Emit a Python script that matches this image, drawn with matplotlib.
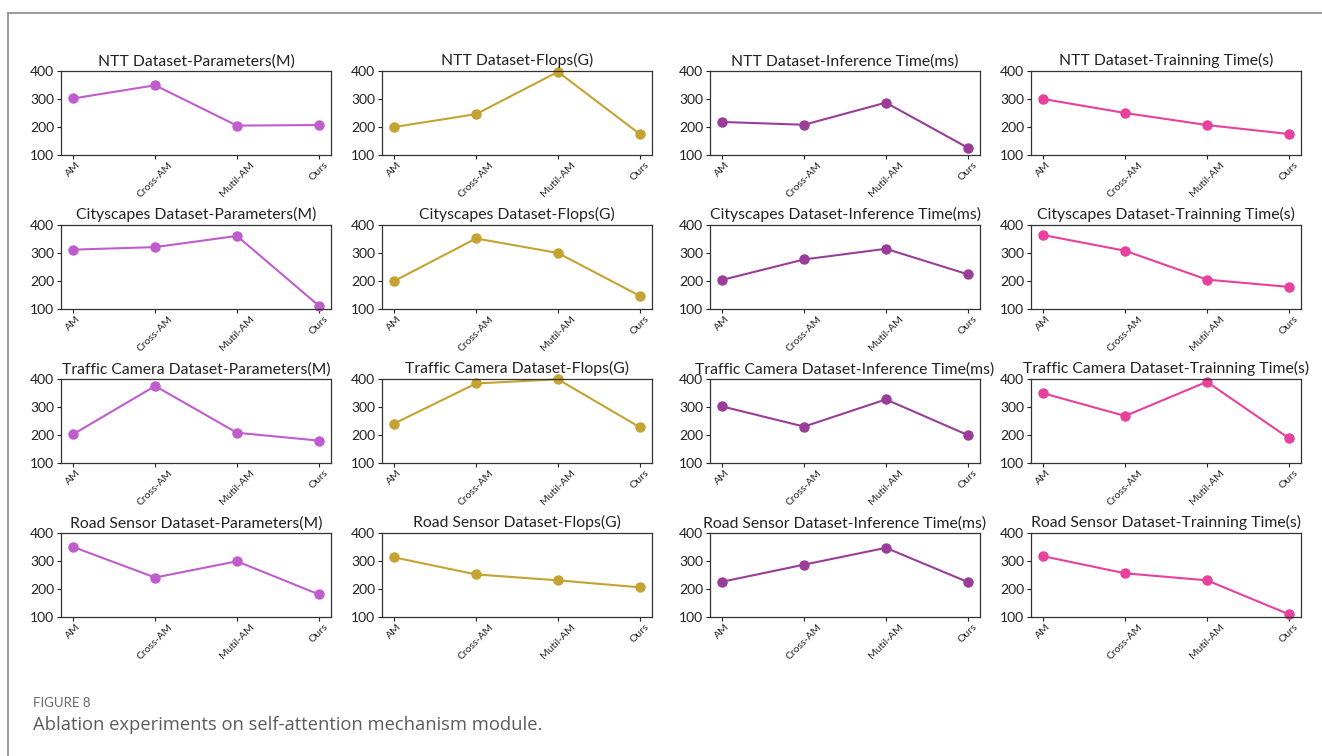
import matplotlib
matplotlib.use("Agg")
import matplotlib.pyplot as plt
from matplotlib.lines import Line2D

plt.rcParams["font.family"] = ["Lato", "DejaVu Sans"]

methods = ["AM", "Cross-AM", "Mutil-AM", "Ours"]
datasets = ["NTT", "Cityscapes", "Traffic Camera", "Road Sensor"]
metrics = ["Parameters(M)", "Flops(G)", "Inference Time(ms)", "Trainning Time(s)"]
colors = ["#c05cce", "#c4a332", "#9a3d98", "#e8409c"]

# one list of four values per dataset, in method order
params_m = [
    [302, 349, 205, 207],
    [312, 321, 361, 112],
    [203, 375, 208, 180],
    [350, 241, 299, 181],
]
flops_g = [
    [200, 246, 397, 175],
    [200, 352, 300, 147],
    [241, 384, 399, 228],
    [313, 252, 231, 206],
]
infer_ms = [
    [218, 208, 287, 126],
    [204, 277, 315, 224],
    [302, 230, 327, 200],
    [226, 287, 347, 225],
]
train_s = [
    [300, 250, 207, 175],
    [364, 308, 205, 179],
    [349, 268, 390, 189],
    [317, 256, 231, 110],
]
all_metrics = [params_m, flops_g, infer_ms, train_s]

W, H = 1322, 756
fig = plt.figure(figsize=(W / 100, H / 100), dpi=100)

col_left = [61, 382, 710, 1031]
row_top = [71, 225, 379, 533]
ax_w, ax_h = 270, 84

for r, ds in enumerate(datasets):
    for c, metric in enumerate(metrics):
        rect = [col_left[c] / W, 1 - (row_top[r] + ax_h) / H, ax_w / W, ax_h / H]
        ax = fig.add_axes(rect)
        ax.plot(methods, all_metrics[c][r], color=colors[c], marker="o",
                markersize=6.5, linewidth=1.5, clip_on=False)
        ax.set_ylim(100, 400)
        ax.set_yticks([100, 200, 300, 400])
        ax.set_title(f"{ds} Dataset-{metric}", fontsize=11.3, color="#222222", pad=4)
        ax.tick_params(axis="y", labelsize=10, length=3, pad=2, colors="#222222")
        ax.tick_params(axis="x", labelsize=7.5, length=3, pad=1, colors="#222222")
        for lbl in ax.get_xticklabels():
            lbl.set_rotation(45)
            lbl.set_ha("center")
            lbl.set_va("top")
        for sp in ax.spines.values():
            sp.set_color("#333333")
            sp.set_linewidth(0.9)
        ax.margins(x=0.05)

# outer frame (top and left edges only)
fig.add_artist(Line2D([8 / W, 1.0], [1 - 13 / H, 1 - 13 / H], color="#8a8a8a", linewidth=1.2))
fig.add_artist(Line2D([8 / W, 8 / W], [1 - 13 / H, 0.0], color="#8a8a8a", linewidth=1.2))

fig.text(33 / W, 1 - 703 / H, "FIGURE 8", fontsize=9.5, color="#6a6a6a", va="center")
fig.text(33 / W, 1 - 725 / H, "Ablation experiments on self-attention mechanism module.",
         fontsize=13.2, color="#5c5c5c", va="center", family=["Open Sans", "DejaVu Sans"])

fig.savefig("out.png", dpi=100, facecolor="white")
